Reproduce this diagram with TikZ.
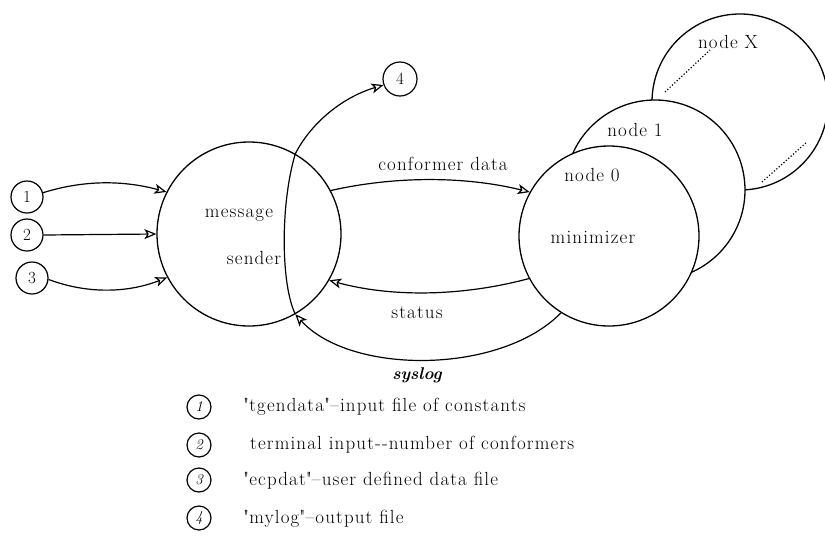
\documentclass[tikz,border=0pt]{standalone}
\usepackage{fontspec}
\usetikzlibrary{arrows.meta}
\newfontfamily\lbfont{Latin Modern Roman}[LetterSpace=6, Ligatures=TeX]
\begin{document}
\begin{tikzpicture}[x=1pt,y=-1pt,
  lbl/.style={font=\lbfont\fontsize{19}{21}\selectfont, inner sep=0pt},
  bigc/.style={circle, draw, line width=1.3pt, inner sep=0pt, fill=white},
  smallc/.style={circle, draw, line width=1.2pt, minimum size=32pt, inner sep=0pt, font=\fontsize{17}{17}\selectfont},
  legc/.style={circle, draw, line width=1.2pt, minimum size=24pt, inner sep=0pt, font=\itshape\fontsize{15}{15}\selectfont},
  legt/.style={anchor=west, inner sep=0pt, font=\lbfont\fontsize{19}{21}\selectfont},
  arr/.style={line width=1.2pt, -{Stealth[open, length=12pt, width=10pt, inset=3pt]}},
  ln/.style={line width=1.2pt}
]
\useasboundingbox (0,0) rectangle (825,547);

% message sender
\node[bigc, minimum size=184pt] (ms) at (249,234) {};
\node[lbl] (tmsg) at (239,215) {message};
\node[lbl] (tsnd) at (254,258) {sender};

% minimizer stack
\node[bigc, minimum size=176pt] (nx) at (740,102) {};
\draw[ln, dotted] (665,92) -- (710,50);
\draw[ln, dotted] (762,182) -- (807,142);
\node[bigc, minimum size=180pt] (n1) at (655,190) {};
\node[bigc, minimum size=180pt] (mn) at (609,236) {};
\node[lbl] (tnx) at (728,42) {node X};
\node[lbl] (tn1) at (635,130) {node 1};
\node[lbl] (tn0) at (592,175) {node 0};
\node[lbl] (tmin) at (593,237) {minimizer};

% inputs
\node[smallc] (i1) at (27,197) {1};
\node[smallc] (i2) at (27,235) {2};
\node[smallc] (i3) at (32,278) {3};
\node[smallc, minimum size=34pt] (o4) at (400,79) {4};

\draw[arr] (i1.15) .. controls (90,178) and (130,182) .. (ms.153);
\draw[arr] (i2.east) -- (ms.180);
\draw[arr] (i3.-5) .. controls (90,295) and (130,292) .. (ms.208);

% line through message sender up to output 4
\draw[arr] (ms.-60) .. controls (281,285) and (280,205) .. (ms.60)
  .. controls (310,125) and (340,98) .. (o4.200);

% conformer data
\draw[arr] (ms.28) .. controls (395,176) and (465,176) .. (mn.151);
\node[lbl] (tcd) at (443,164) {conformer data};

% status
\draw[arr] (mn.208) .. controls (460,297) and (390,297) .. (ms.-30);
\node[lbl] (tst) at (417,313) {status};

% syslog
\draw[arr] (mn.238) .. controls (500,375) and (350,375) .. (ms.-60);
\node[lbl, font=\bfseries\itshape\fontsize{17}{19}\selectfont] (tsy) at (417,375) {syslog};

% legend
\node[legc] (l1) at (199,407) {1};
\node[legc] (l2) at (199,445) {2};
\node[legc] (l3) at (199,480) {3};
\node[legc] (l4) at (199,518) {4};
\node[legt] (lt1) at (243,407) {\textquotedbl tgendata\textquotedbl--input file of constants};
\node[legt] (lt2) at (250,445) {terminal input{-}{-}number of conformers};
\node[legt] (lt3) at (243,481) {\textquotedbl ecpdat\textquotedbl--user defined data file};
\node[legt] (lt4) at (243,519) {\textquotedbl mylog\textquotedbl--output file};
\end{tikzpicture}
\end{document}
